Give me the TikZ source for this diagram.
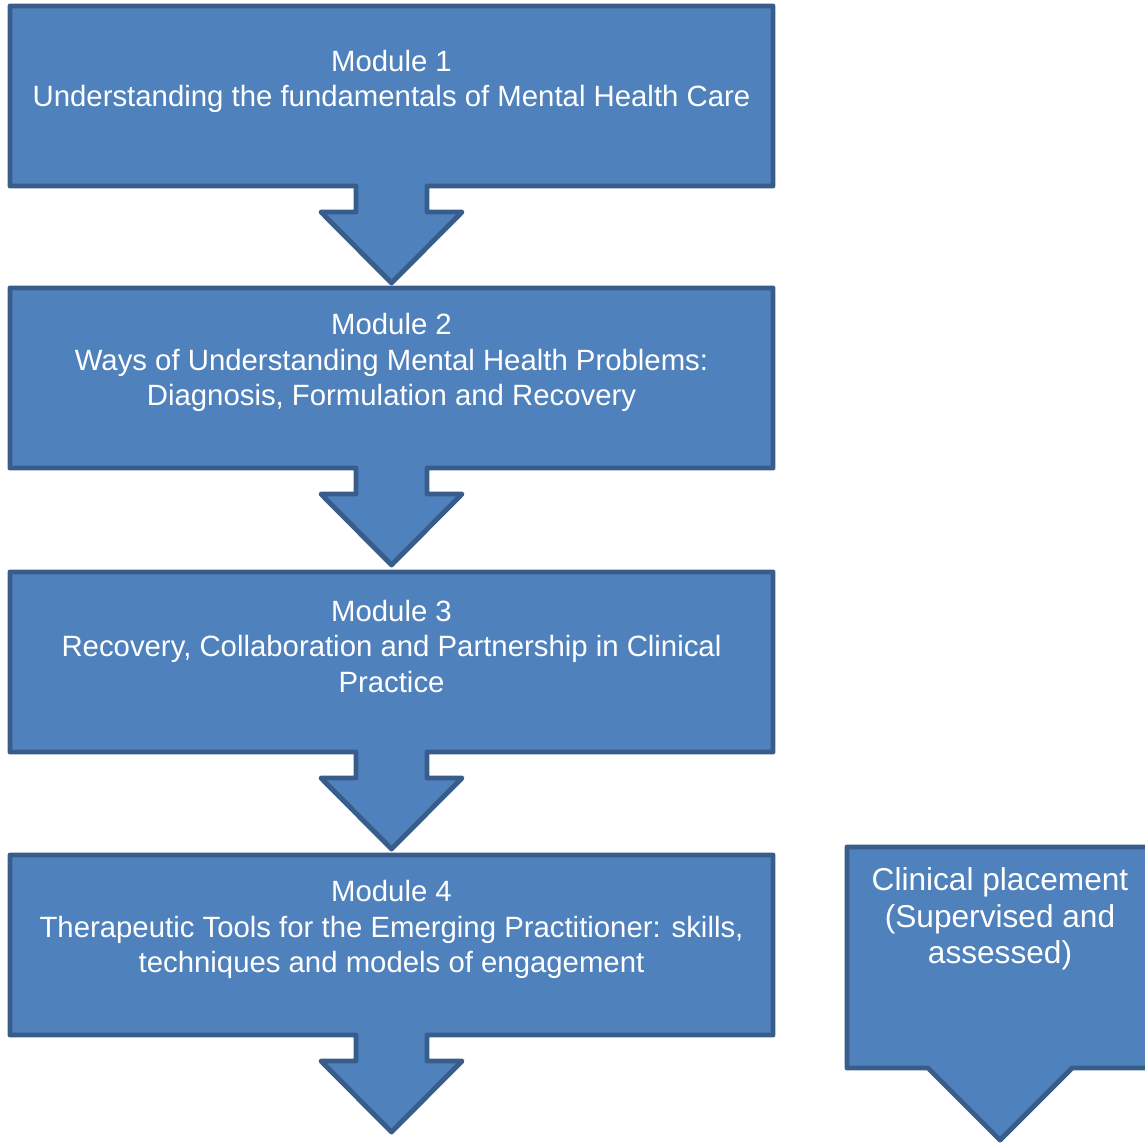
\documentclass[tikz,border=0pt]{standalone}
\usepackage{fontspec}
\setmainfont{Liberation Sans}
\usetikzlibrary{positioning}
\definecolor{modfill}{RGB}{79,129,189}
\definecolor{modline}{RGB}{56,93,138}
\tikzset{
	callout/.style={fill=modfill, draw=modline, line width=2.8pt, line join=round}, % box with its arrow
	modtext/.style={text=white, align=center, font=\fontsize{16.7}{20}\selectfont}, % module labels
	placetext/.style={text=white, align=center, font=\fontsize{18}{20.8}\selectfont}, % placement label
}

\begin{document}
\begin{tikzpicture}[x=0.02cm, y=-0.02cm]
	\clip (0,0) rectangle (1145,1142);
	% module boxes, each with its down arrow
	\foreach \t in {6,288,572,855}{
		\draw[callout] (10,\t) -- (773,\t) -- (773,\t+180) -- (427,\t+180) -- (427,\t+206)
			-- (462,\t+206) -- (391.5,\t+277) -- (321,\t+206) -- (356,\t+206) -- (356,\t+180)
			-- (10,\t+180) -- cycle;
	}
	% clinical placement box
	\draw[callout] (847,847) -- (1153,847) -- (1153,1068) -- (1072,1068) -- (1000,1140)
		-- (928,1068) -- (847,1068) -- cycle;
	\node[modtext] (m1) at (391.5,81.5) {Module 1\\Understanding the fundamentals of Mental Health Care};
	\node[modtext] (m2) at (391.5,362.5) {Module 2\\Ways of Understanding Mental Health Problems:\\Diagnosis, Formulation and Recovery};
	\node[modtext] (m3) at (391.5,646.5) {Module 3\\Recovery, Collaboration and Partnership in Clinical\\Practice};
	\node[modtext] (m4) at (391.5,929.5) {Module 4\\Therapeutic Tools for the Emerging Practitioner: skills,\\techniques and models of engagement};
	\node[placetext] (cp) at (1000,919) {Clinical placement\\(Supervised and\\assessed)};
\end{tikzpicture}
\end{document}
